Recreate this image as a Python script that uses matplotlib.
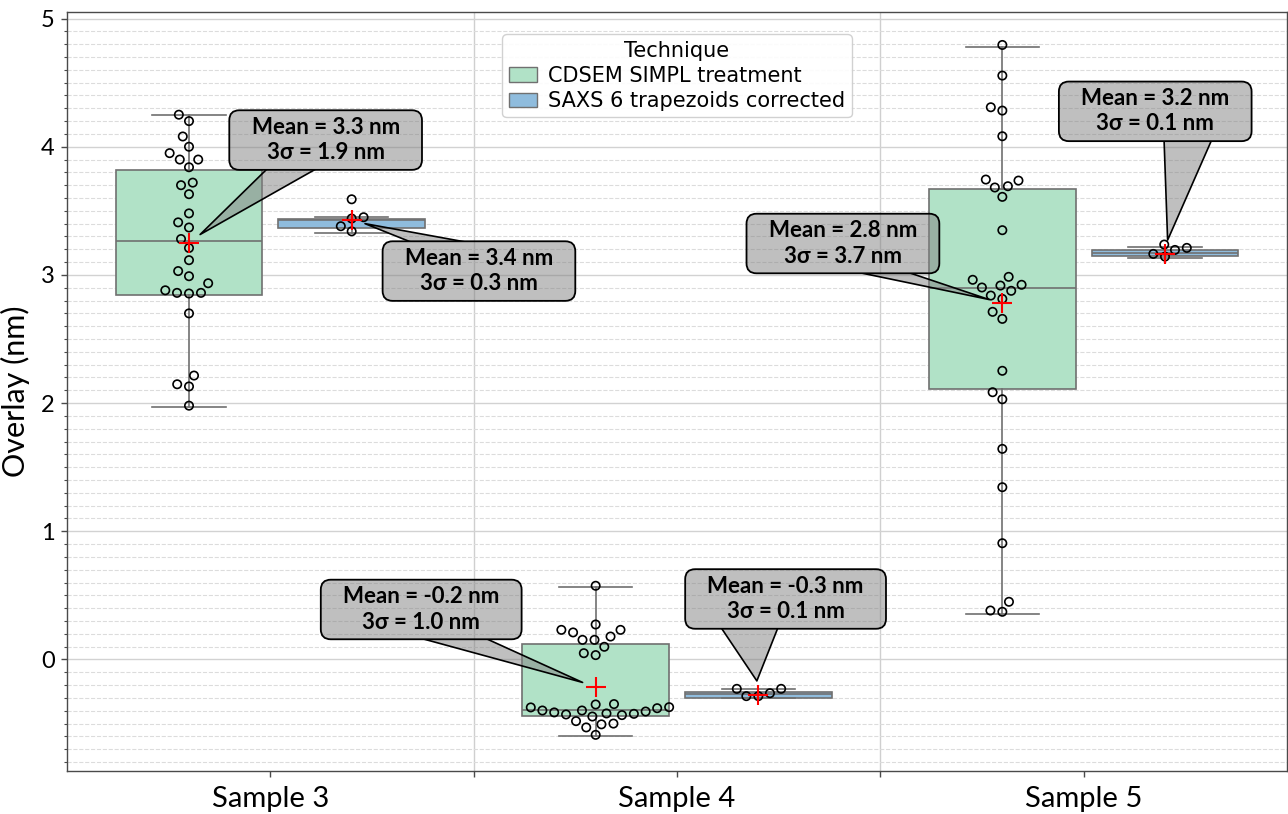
import numpy as np
import matplotlib
matplotlib.use("Agg")
import matplotlib.pyplot as plt
from matplotlib.ticker import MultipleLocator, FixedLocator
from matplotlib.patches import Patch, BoxStyle
from matplotlib.path import Path
from matplotlib.transforms import IdentityTransform

# ---------------- data ----------------
samples = ["Sample 3", "Sample 4", "Sample 5"]
techniques = ["CDSEM SIMPL treatment", "SAXS 6 trapezoids corrected"]

s3_cdsem = [4.25, 4.20, 4.08, 4.00, 3.95, 3.90, 3.90, 3.84, 3.72, 3.70, 3.63, 3.48,
            3.41, 3.37, 3.28, 3.21, 3.115, 3.03, 2.99, 2.935, 2.88, 2.86, 2.855,
            2.86, 2.70, 2.215, 2.147, 2.13, 1.98]
s3_saxs = [3.59, 3.44, 3.45, 3.38, 3.34]
s4_cdsem = [0.575, 0.273, 0.231, 0.231, 0.211, 0.179, 0.153, 0.153, 0.099, 0.049,
            0.034, -0.348, -0.351, -0.372, -0.374, -0.38, -0.398, -0.398, -0.406,
            -0.413, -0.421, -0.424, -0.429, -0.434, -0.445, -0.481, -0.50, -0.506,
            -0.53, -0.588]
s4_saxs = [-0.229, -0.229, -0.263, -0.286, -0.286]
s5_cdsem = [4.794, 4.555, 4.308, 4.282, 4.082, 3.744, 3.736, 3.692, 3.682, 3.609,
            3.349, 2.985, 2.962, 2.923, 2.917, 2.902, 2.876, 2.839, 2.813, 2.712,
            2.657, 2.252, 2.085, 2.03, 1.643, 1.344, 0.907, 0.45, 0.382, 0.372]
s5_saxs = [3.237, 3.211, 3.195, 3.164, 3.143]

# box statistics (order: S3 CDSEM, S3 SAXS, S4 CDSEM, S4 SAXS, S5 CDSEM, S5 SAXS)
whis_low = [1.97, 3.325, -0.598, -0.30, 0.356, 3.131]
quart1 = [2.847, 3.363, -0.442, -0.299, 2.111, 3.149]
medians = [3.266, 3.43, -0.393, -0.273, 2.897, 3.17]
quart3 = [3.822, 3.435, 0.122, -0.25, 3.67, 3.196]
whis_high = [4.25, 3.45, 0.564, -0.229, 4.778, 3.217]
means = [3.25, 3.43, -0.216, -0.275, 2.78, 3.165]

mean_labels = ["Mean = 3.3 nm", "Mean = 3.4 nm", "Mean = -0.2 nm",
               "Mean = -0.3 nm", "Mean = 2.8 nm", "Mean = 3.2 nm"]
sigma_labels = ["3σ = 1.9 nm", "3σ = 0.3 nm", "3σ = 1.0 nm",
                "3σ = 0.1 nm", "3σ = 3.7 nm", "3σ = 0.1 nm"]

# ---------------- layout / styling ----------------
callout_pos = [(0.136, 4.052), (0.513, 3.03), (0.371, 0.39),
               (1.267, 0.472), (1.408, 3.245), (2.176, 4.276)]
callout_relpos = [(0.5, 0.5), (0.84, 0.5), (0.24, 0.5),
                  (0.26, 0.5), (0.09, 0.5), (0.75, 0.5)]
callout_tail = [1.85, 1.55, 1.55, 3.9, 1.15, 2.7]

colors = ["#b1e2c7", "#8fbcdd"]
line_gray = "#707070"
spine_gray = "#4a4a4a"
callout_fc = (0.5, 0.5, 0.5, 0.5)
FONT = "Lato"
SWARM_GAP_PX = 12.0

_round = BoxStyle.Round(pad=0.3, rounding_size=0.45)


def callout_box(x0, y0, width, height, mutation_size):
    extra = 0.7 * mutation_size
    return _round(x0 - extra, y0, width + 2 * extra, height, mutation_size)


groups = [(0, 0, s3_cdsem), (0, 1, s3_saxs), (1, 0, s4_cdsem),
          (1, 1, s4_saxs), (2, 0, s5_cdsem), (2, 1, s5_saxs)]

fig = plt.figure(figsize=(12.88, 8.14), dpi=100)
ax = fig.add_axes([67 / 1288, 43 / 814, 1220 / 1288, 759.5 / 814])
ax.set_xlim(-0.5, 2.5)
ax.set_ylim(-0.87, 5.055)

offset = 0.2
positions = [si + (offset if ti else -offset) for si, ti, _ in groups]
stats = []
for i in range(len(groups)):
    stats.append(dict(whislo=whis_low[i], q1=quart1[i], med=medians[i],
                      q3=quart3[i], whishi=whis_high[i], fliers=[]))
bp = ax.bxp(stats, positions=positions, widths=0.36, patch_artist=True,
            showfliers=False, manage_ticks=False,
            boxprops=dict(edgecolor=line_gray, linewidth=1.2),
            medianprops=dict(color=line_gray, linewidth=1.2),
            whiskerprops=dict(color=line_gray, linewidth=1.2),
            capprops=dict(color=line_gray, linewidth=1.2))
for i, b in enumerate(bp["boxes"]):
    b.set_facecolor(colors[groups[i][1]])
    b.set_zorder(2)


def swarm_x(values, center):
    """Beeswarm placement (same idea as seaborn's swarmplot) in pixel space."""
    vals = np.asarray(values, float)
    pts = ax.transData.transform(np.column_stack([np.full(len(vals), center), vals]))
    ypix = pts[:, 1]
    xc = pts[0, 0]
    d = SWARM_GAP_PX
    placed = []
    xoff = np.zeros(len(vals))
    for idx in np.argsort(ypix, kind="stable"):
        y = ypix[idx]
        neigh = [(px, py) for px, py in placed if abs(py - y) < d]
        cands = [0.0]
        for px, py in neigh:
            dx = np.sqrt(d * d - (py - y) ** 2)
            cands += [px - dx, px + dx]
        cands.sort(key=lambda c: (abs(c), c))
        for c in cands:
            if all((c - px) ** 2 + (y - py) ** 2 >= d * d - 1e-6 for px, py in neigh):
                xoff[idx] = c
                placed.append((c, y))
                break
    back = ax.transData.inverted().transform(np.column_stack([xc + xoff, ypix]))
    return back[:, 0]


for i, (si, ti, vals) in enumerate(groups):
    xs = swarm_x(vals, positions[i])
    ax.scatter(xs, vals, s=36, facecolors="none", edgecolors="black",
               linewidths=1.2, zorder=3)

ax.plot(positions, means, linestyle="none", marker="+", color="red",
        markersize=15, markeredgewidth=1.5, zorder=4)

anns = []
for i in range(len(groups)):
    ann = ax.annotate(mean_labels[i] + "\n" + sigma_labels[i],
                      xy=(positions[i], means[i]), xycoords="data",
                      xytext=callout_pos[i], textcoords="data",
                      ha="center", va="center", multialignment="center",
                      fontsize=16, fontweight="bold", fontfamily=FONT,
                      linespacing=1.25,
                      bbox=dict(boxstyle=callout_box, fc=callout_fc,
                                ec="black", lw=1.3),
                      arrowprops=dict(arrowstyle="wedge,tail_width=%.2f" % callout_tail[i],
                                      fc=callout_fc, ec="black", lw=1.2,
                                      patchA=None, shrinkA=0, shrinkB=10,
                                      relpos=callout_relpos[i]),
                      zorder=6)
    anns.append(ann)

ax.set_xticks(range(len(samples)))
ax.set_xticklabels(samples)
ax.set_ylabel("Overlay (nm)", fontsize=22, fontfamily=FONT, labelpad=8)

ax.yaxis.set_major_locator(MultipleLocator(1))
ax.yaxis.set_minor_locator(MultipleLocator(0.1))
ax.xaxis.set_minor_locator(FixedLocator([0.5, 1.5]))

ax.set_axisbelow(True)
ax.yaxis.grid(True, which="major", color="#d2d2d2", linewidth=1.0, linestyle="-")
ax.yaxis.grid(True, which="minor", color="#dcdcdc", linewidth=0.8, linestyle="--")
ax.xaxis.grid(True, which="minor", color="#cfcfcf", linewidth=1.0, linestyle="-")
ax.xaxis.grid(False, which="major")

ax.tick_params(axis="both", which="major", length=4, color=spine_gray, width=1)
ax.tick_params(axis="y", which="minor", length=2.5, color=spine_gray, width=0.8)
ax.tick_params(axis="x", which="minor", length=4, color=spine_gray, width=1)
ax.tick_params(axis="x", which="major", labelsize=21, pad=7)
ax.tick_params(axis="y", which="major", labelsize=17, pad=5)
for lab in ax.get_xticklabels() + ax.get_yticklabels():
    lab.set_fontfamily(FONT)

for sp in ax.spines.values():
    sp.set_color(spine_gray)
    sp.set_linewidth(1.0)

handles = [Patch(facecolor=colors[0], edgecolor=line_gray, label=techniques[0]),
           Patch(facecolor=colors[1], edgecolor=line_gray, label=techniques[1])]
leg = ax.legend(handles=handles, title="Technique", loc="upper center",
                bbox_to_anchor=(0.5, 1.0), fontsize=15, title_fontsize=15,
                borderaxespad=1.1, borderpad=0.3, handlelength=1.35,
                handletextpad=0.55, labelspacing=0.25, framealpha=0.9,
                edgecolor="#cccccc",
                prop={"family": "DejaVu Sans", "size": 15})
leg.set_zorder(7)

# hide the part of each wedge that lies under its (translucent) text box
fig.canvas.draw()
W, H = fig.bbox.width, fig.bbox.height
for ann in anns:
    bpatch = ann.get_bbox_patch()
    poly = bpatch.get_transform().transform_path(bpatch.get_path()).to_polygons()[0]
    area = 0.5 * np.sum(poly[:-1, 0] * poly[1:, 1] - poly[1:, 0] * poly[:-1, 1])
    if area > 0:
        poly = poly[::-1]
    outer = np.array([[-10, -10], [W + 10, -10], [W + 10, H + 10],
                      [-10, H + 10], [-10, -10]])
    verts = np.vstack([outer, poly])
    codes = ([Path.MOVETO] + [Path.LINETO] * 3 + [Path.CLOSEPOLY] +
             [Path.MOVETO] + [Path.LINETO] * (len(poly) - 2) + [Path.CLOSEPOLY])
    ann.arrow_patch.set_clip_path(Path(verts, codes), IdentityTransform())

fig.savefig("out.png", dpi=100)
